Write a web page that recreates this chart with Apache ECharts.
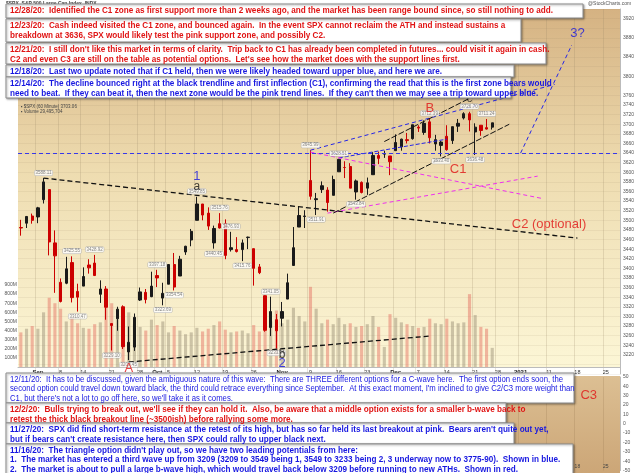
<!DOCTYPE html>
<html><head><meta charset="utf-8">
<script src="https://cdn.jsdelivr.net/npm/echarts@6/dist/echarts.min.js"></script>
<style>html,body{margin:0;padding:0;background:#fff}#c{width:640px;height:473px}</style>
</head><body><div id="c"></div>
<script>
// ---------------- DATA ----------------
const dates = ['2020-08-27','2020-08-28','2020-08-31','2020-09-01','2020-09-02','2020-09-03','2020-09-04','2020-09-08','2020-09-09','2020-09-10','2020-09-11','2020-09-14','2020-09-15','2020-09-16','2020-09-17','2020-09-18','2020-09-21','2020-09-22','2020-09-23','2020-09-24','2020-09-25','2020-09-28','2020-09-29','2020-09-30','2020-10-01','2020-10-02','2020-10-05','2020-10-06','2020-10-07','2020-10-08','2020-10-09','2020-10-12','2020-10-13','2020-10-14','2020-10-15','2020-10-16','2020-10-19','2020-10-20','2020-10-21','2020-10-22','2020-10-23','2020-10-26','2020-10-27','2020-10-28','2020-10-29','2020-10-30','2020-11-02','2020-11-03','2020-11-04','2020-11-05','2020-11-06','2020-11-09','2020-11-10','2020-11-11','2020-11-12','2020-11-13','2020-11-16','2020-11-17','2020-11-18','2020-11-19','2020-11-20','2020-11-23','2020-11-24','2020-11-25','2020-11-27','2020-11-30','2020-12-01','2020-12-02','2020-12-03','2020-12-04','2020-12-07','2020-12-08','2020-12-09','2020-12-10','2020-12-11','2020-12-14','2020-12-15','2020-12-16','2020-12-17','2020-12-18','2020-12-21','2020-12-22','2020-12-23','2020-12-24'];
const futureDates = ['2020-12-28','2020-12-29','2020-12-30','2020-12-31','2021-01-04','2021-01-05','2021-01-06','2021-01-07','2021-01-08','2021-01-11','2021-01-12','2021-01-13','2021-01-14','2021-01-15','2021-01-18','2021-01-19','2021-01-20','2021-01-21','2021-01-22','2021-01-25','2021-01-26','2021-01-27'];
const open  = [3485,3494,3509,3507,3543,3564,3453,3371,3369,3412,3352,3363,3407,3411,3346,3357,3285,3295,3320,3226,3236,3334,3350,3341,3385,3338,3367,3408,3384,3434,3459,3500,3534,3515,3453,3493,3493,3439,3439,3439,3464,3441,3403,3343,3277,3293,3296,3336,3406,3486,3508,3583,3543,3564,3563,3552,3601,3610,3612,3559,3579,3567,3595,3635,3638,3634,3645,3653,3668,3670,3694,3683,3705,3659,3656,3675,3666,3696,3713,3722,3684,3698,3693,3694];
const high  = [3501,3509,3514,3528,3588,3564,3479,3379,3424,3425,3368,3402,3419,3428,3375,3363,3285,3320,3323,3279,3306,3360,3357,3393,3397,3370,3409,3432,3426,3447,3482,3549,3534,3527,3489,3515,3502,3476,3465,3460,3466,3441,3409,3342,3341,3305,3330,3389,3486,3529,3521,3646,3557,3581,3569,3593,3628,3623,3619,3585,3581,3589,3642,3643,3645,3634,3679,3670,3682,3699,3698,3708,3712,3678,3665,3698,3695,3711,3725,3726,3702,3698,3711,3703];
const low   = [3468,3484,3493,3494,3535,3427,3349,3329,3367,3329,3310,3363,3389,3384,3328,3293,3229,3270,3232,3209,3228,3332,3327,3340,3361,3323,3367,3354,3384,3428,3446,3500,3500,3480,3441,3483,3419,3435,3433,3415,3440,3364,3388,3268,3259,3233,3279,3336,3405,3486,3484,3543,3511,3557,3518,3552,3601,3588,3567,3543,3556,3553,3595,3617,3630,3594,3645,3645,3660,3668,3684,3678,3660,3645,3633,3645,3659,3684,3710,3685,3636,3676,3689,3689];
const close = [3484,3508,3500,3526,3580,3455,3426,3331,3399,3339,3340,3383,3401,3385,3357,3319,3281,3315,3237,3246,3298,3351,3335,3363,3380,3348,3408,3361,3419,3446,3477,3534,3511,3488,3483,3484,3427,3443,3435,3453,3465,3400,3391,3271,3310,3270,3310,3370,3443,3510,3509,3550,3545,3572,3537,3585,3627,3610,3567,3582,3558,3578,3635,3629,3638,3622,3662,3669,3666,3699,3692,3702,3672,3668,3663,3647,3695,3702,3722,3709,3694,3687,3690,3703];
const volume = [380,420,450,420,600,760,700, 640,500,540,480, 430,420,470,490,660, 700,520,560,600,470, 440,400,520, 460,500, 380,450,400,360,380, 430,390,420,460,500, 410,380,390,400,370, 460,390,580,500,620, 480,520,650,560,500, 880,640,480,520,470, 540,470,480,440,450, 470,560,440,220, 580, 540,490,470,450, 430,440,530,480,470, 530,500,480,490,800, 570,440,420,210];

const xLabelDates = ['2020-09-01','2020-09-08','2020-09-14','2020-09-21','2020-09-28','2020-10-01','2020-10-05','2020-10-12','2020-10-19','2020-10-26','2020-11-02','2020-11-09','2020-11-16','2020-11-23','2020-12-01','2020-12-07','2020-12-14','2020-12-21','2020-12-28','2021-01-04','2021-01-11','2021-01-18','2021-01-25'];
const xLabelTexts = ['Sep','8','14','21','28','Oct','5','12','19','26','Nov','9','16','23','Dec','7','14','21','28','2021','11','18','25'];

const pivotDates  = ['2020-09-02','2020-09-10','2020-09-11','2020-09-16','2020-09-21','2020-09-24','2020-10-01','2020-10-02','2020-10-06','2020-10-12','2020-10-15','2020-10-16','2020-10-20','2020-10-22','2020-10-29','2020-10-30','2020-11-09','2020-11-10','2020-11-16','2020-11-19','2020-12-09','2020-12-11','2020-12-18','2020-12-21','2020-12-23'];
const pivotPrices = [3588.11,3425.55,3310.47,3428.92,3229.10,3209.45,3397.18,3323.69,3354.54,3549.85,3440.45,3515.76,3476.93,3415.76,3341.05,3233.94,3645.99,3511.91,3628.51,3543.84,3712.39,3633.40,3726.70,3636.48,3711.24];
const pivotSide   = ['top','top','bottom','top','bottom','bottom','top','bottom','bottom','top','bottom','top','top','bottom','top','bottom','top','bottom','top','bottom','top','bottom','top','bottom','top'];

const waveDates  = ['2020-09-24','2020-10-12','2020-10-12','2020-11-02','2020-11-02','2020-12-09','2020-12-18','2020-12-16','2021-01-11','2021-01-18'];
const wavePrices = [3192,3592,3571,3221,3202,3734,3752,3607,3492,3890];
const waveTexts  = ['A','1','a','b','2','B','c','C1','C2 (optional)','3?'];
const lowerWaveDates = ['2021-01-20'];
const lowerWaveValues = [30];
const lowerWaveTexts = ['C3'];

const breakdownLevel = 3640;
const blackTopLine    = [['2020-09-02',3588],['2021-01-18',3463]];
const blackBottomLine = [['2020-09-24',3205],['2020-12-09',3259]];
const blueUpperLine   = [['2020-11-09',3646],['2021-01-12',3783]];
const blueRiseLine    = [['2021-01-04',3640],['2021-01-15',3865]];
const blueMidLine     = [['2020-11-16',3630],['2020-12-14',3669]];
const pinkDownLine    = [['2020-11-09',3642],['2021-01-08',3545]];
const pinkUpLine      = [['2020-11-12',3515],['2021-01-07',3592]];
const channelLowLine  = [['2020-11-13',3515],['2020-12-30',3700]];
const channelHighLine = [['2020-11-27',3664],['2020-12-18',3754]];

const topNotes = [
 ['12/28/20:  Identified the C1 zone as first support more than 2 weeks ago, and the market has been range bound since, so still nothing to add.'],
 ['12/23/20:  Cash indeed visited the C1 zone, and bounced again.  In the event SPX cannot reclaim the ATH and instead sustains a','breakdown at 3636, SPX would likely test the pink support zone, and possibly C2.'],
 ["12/21/20:  I still don't like this market in terms of clarity.  Trip back to C1 has already been completed in futures... could visit it again in cash.","C2 and even C3 are still on the table as potential options.  Let's see how the market does with the support lines first."],
 ['12/18/20:  Last two update noted that if C1 held, then we were likely headed toward upper blue, and here we are.'],
 ['12/14/20:  The decline bounced right at the black trendline and first inflection (C1), confirming the read that this is the first zone bears would',"need to beat.  If they can beat it, then the next zone would be the pink trend lines.  If they can't then we may see a trip toward upper blue."]
];
const bottomNotes = [
 ['12/11/20:  It has to be discussed, given the ambiguous nature of this wave:  There are THREE different options for a C-wave here.  The first option ends soon, the',"second option could travel down toward black, the third could retrace everything since September.  At this exact moment, I'm inclined to give C2/C3 more weight than","C1, but there's not a lot to go off here, so we'll take it as it comes."],
 ["12/2/20:  Bulls trying to break out, we'll see if they can hold it.  Also, be aware that a middle option exists for a smaller b-wave back to",'retest the thick black breakout line (~3500ish) before rallying some more.'],
 ["11/27/20:  SPX did find short-term resistance at the retest of its high, but has so far held its last breakout at pink.  Bears aren't quite out yet,","but if bears can't create resistance here, then SPX could rally to upper black next."],
 ["11/16/20:  The triangle option didn't play out, so we have two leading potentials from here:",'1.  The market has entered a third wave up from 3209 (3209 to 3549 being 1, 3549 to 3233 being 2, 3 underway now to 3775-90).  Shown in blue.','2.  The market is about to pull a large b-wave high, which would travel back below 3209 before running to new ATHs.  Shown in red.']
];

// ---------------- LAYOUT / STYLE ----------------
const RED = '#e01414', BLUE = '#1717e0';
const topBoxes = [
 {x:6,y:4,w:577,h:14,color:RED},
 {x:6,y:19,w:515,h:23,color:RED},
 {x:6,y:43,w:540,h:21,color:RED},
 {x:6,y:65,w:508,h:12,color:BLUE},
 {x:6,y:77,w:505,h:21,color:BLUE}
];
const bottomBoxes = [
 {x:6,y:373,w:568,h:30,color:BLUE,bold:false},
 {x:6,y:403,w:500,h:20,color:RED},
 {x:6,y:423,w:508,h:21,color:BLUE},
 {x:6,y:444,w:567,h:31,color:BLUE}
];
const FONT_FAMILY = '"Liberation Sans", Arial, sans-serif';
const boldFont = 'bold 9.5px ' + FONT_FAMILY;
const normFont = '9.5px ' + FONT_FAMILY;
const mctx = document.createElement('canvas').getContext('2d');
function measure(font, s){ mctx.font = font; return mctx.measureText(s).width; }
const boldScale = 543 / measure(boldFont, topNotes[0][0]);
const normScale = 553 / measure(normFont, bottomNotes[0][0]);

const waveStyle = {
 'A':{color:RED,fontSize:13}, '1':{color:BLUE,fontSize:13}, 'a':{color:'#111',fontSize:12},
 'b':{color:'#111',fontSize:12}, '2':{color:BLUE,fontSize:13}, 'B':{color:RED,fontSize:13},
 'c':{color:'#111',fontSize:11}, 'C1':{color:RED,fontSize:13}, 'C2 (optional)':{color:RED,fontSize:13},
 '3?':{color:BLUE,fontSize:13}, 'C3':{color:RED,fontSize:13}
};

const cats = dates.concat(futureDates);
const labelMap = {}; xLabelDates.forEach((d,i)=>{labelMap[d]=xLabelTexts[i];});
const isLbl = (i,v) => labelMap[v] !== undefined;
const bigLbl = new Set(['Sep','Oct','Nov','Dec','2021']);
const xFmt = v => { const t = labelMap[v]; if (t===undefined) return ''; return bigLbl.has(t) ? '{m|'+t+'}' : t; };

const ohlc = dates.map((d,i)=>[open[i],close[i],low[i],high[i]]);
const volData = volume.map((v,i)=>({value:v, itemStyle:{color: close[i]>=open[i] ? 'rgba(140,128,105,0.42)' : 'rgba(226,104,92,0.45)'}}));

function lineSeries(pts, color, type, width){
  return {type:'line', xAxisIndex:0, yAxisIndex:0, data:pts, symbol:'none', silent:true, z:4,
    lineStyle:{color:color, type:type, width:width}, animation:false};
}

const boxEls = [];
function addBoxes(boxes, notes){
  boxes.forEach((b,i)=>{
    const bold = b.bold !== false;
    boxEls.push({type:'rect', z:100, shape:{x:b.x,y:b.y,width:b.w,height:b.h},
      style:{fill:'#fff', stroke:'#8c8c8c', lineWidth:1, shadowBlur:2, shadowOffsetX:1, shadowOffsetY:1, shadowColor:'rgba(0,0,0,0.35)'}});
    boxEls.push({type:'text', z:101, x:b.x+4, y:b.y+1.5, scaleX: bold ? boldScale : normScale,
      style:{text:notes[i].join('\n'), font: bold ? boldFont : normFont, fill:b.color, lineHeight: notes[i].length>2 ? 9.5 : 10, verticalAlign:'top'}});
  });
}
addBoxes(topBoxes, topNotes);
addBoxes(bottomBoxes, bottomNotes);

const chart = echarts.init(document.getElementById('c'));
chart.setOption({
  animation:false,
  backgroundColor:'#fff',
  textStyle:{fontFamily:FONT_FAMILY},
  grid:[
    {left:18, right:20, top:9, bottom:99},
    {left:18, right:20, top:285, bottom:106},
    {left:18, right:20, top:377, bottom:2}
  ],
  xAxis:[
    {type:'category', gridIndex:0, data:cats, boundaryGap:true, axisLine:{show:false}, axisTick:{show:false}, axisLabel:{show:false},
      splitLine:{show:true, interval:isLbl, lineStyle:{color:'rgba(150,130,100,0.22)', width:1}}},
    {type:'category', gridIndex:1, data:cats, boundaryGap:true, axisLine:{show:true, lineStyle:{color:'#bbb'}}, axisTick:{show:false},
      axisLabel:{show:true, interval:isLbl, formatter:xFmt, fontSize:5.5, color:'#333', margin:2, rich:{m:{fontSize:6, fontWeight:'bold', color:'#222'}}}},
    {type:'category', gridIndex:2, data:cats, boundaryGap:true, axisLine:{show:false}, axisTick:{show:false},
      axisLabel:{show:true, interval:isLbl, formatter:xFmt, fontSize:5, color:'#444', margin:-6, rich:{m:{fontSize:5, fontWeight:'bold'}}},
      splitLine:{show:true, interval:isLbl, lineStyle:{color:'rgba(150,120,80,0.25)'}}}
  ],
  yAxis:[
    {type:'value', gridIndex:0, position:'right', min:3180, max:3940, interval:20, scale:true,
      axisLine:{show:true, lineStyle:{color:'#bbb'}}, axisTick:{show:false},
      axisLabel:{fontSize:5, color:'#555', margin:3, formatter:v => (v>=3220 && v<=3740) || (v>=3760 && (v-3760)%40===0 && v<=3920) ? String(v) : ''},
      splitLine:{show:true, lineStyle:{color:'rgba(150,130,100,0.10)'}}},
    {type:'value', gridIndex:1, position:'left', min:0, max:900, interval:100,
      axisLine:{show:false}, axisTick:{show:false}, splitLine:{show:false},
      axisLabel:{fontSize:5, color:'#555', margin:1, formatter:v => v>0 ? v+'M' : ''}},
    {type:'value', gridIndex:2, position:'right', min:-50, max:50, interval:10,
      axisLine:{show:true, lineStyle:{color:'#bbb'}}, axisTick:{show:false},
      axisLabel:{fontSize:5, color:'#555', margin:3}, splitLine:{show:false}}
  ],
  graphic:[
    {type:'rect', z:-10, silent:true, shape:{x:18,y:9,width:602,height:358},
      style:{fill:new echarts.graphic.LinearGradient(0,0,0,1,[{offset:0,color:'#d5b282'},{offset:0.45,color:'#eedcb0'},{offset:1,color:'#fcf6d6'}])}},
    {type:'rect', z:-10, silent:true, shape:{x:18,y:376,width:602,height:97},
      style:{fill:new echarts.graphic.LinearGradient(0,0,0,1,[{offset:0,color:'#dcbf93'},{offset:1,color:'#cca677'}])}},
    {type:'text', z:50, x:6, y:1, style:{text:'$SPX  S&P 500 Large Cap Index  INDX', font:'bold 5px '+FONT_FAMILY, fill:'#444'}},
    {type:'text', z:50, x:588, y:1, style:{text:'@StockCharts.com', font:'5px '+FONT_FAMILY, fill:'#555'}},
    {type:'text', z:50, x:21, y:104, style:{text:'\u25AA $SPX (60 Minute) 3703.06\n\u25AA Volume 29,495,704', font:'4.5px '+FONT_FAMILY, fill:'#444', lineHeight:5}},
    ...boxEls
  ],
  series:[
    {type:'candlestick', xAxisIndex:0, yAxisIndex:0, data:ohlc, barMaxWidth:3, z:3,
      itemStyle:{color:'#1a1a1a', color0:'#cc0000', borderColor:'#1a1a1a', borderColor0:'#cc0000', borderWidth:1},
      markLine:{silent:true, symbol:'none', label:{show:false}, lineStyle:{color:'#3838e8', type:[4,3], width:1},
        data:[{yAxis:breakdownLevel}]}},
    {type:'bar', xAxisIndex:1, yAxisIndex:1, data:volData, barWidth:'55%', z:1},
    lineSeries(blackTopLine, '#111', [5,3], 1.3),
    lineSeries(blackBottomLine, '#111', [5,3], 1.3),
    lineSeries(blueUpperLine, '#2525e6', [4,3], 1),
    lineSeries(blueRiseLine, '#2525e6', [4,3], 1),
    lineSeries(blueMidLine, '#2525e6', [4,2], 1),
    lineSeries(pinkDownLine, '#ee30ee', [4,3], 1),
    lineSeries(pinkUpLine, '#ee30ee', [4,3], 1),
    lineSeries(channelLowLine, '#111', [6,2], 1),
    lineSeries(channelHighLine, '#111', [6,2], 1),
    {type:'scatter', xAxisIndex:0, yAxisIndex:0, z:5, symbolSize:1, itemStyle:{color:'rgba(0,0,0,0)'},
      data:pivotDates.map((d,i)=>({value:[d,pivotPrices[i]], label:{position:pivotSide[i]}})),
      label:{show:true, distance:2, fontSize:4.5, color:'#666', backgroundColor:'#fff', borderColor:'#aaa', borderWidth:0.5, padding:[0,1], borderRadius:1,
        formatter:p => p.value[1].toFixed(2)}},
    {type:'scatter', xAxisIndex:0, yAxisIndex:0, z:6, symbolSize:1, itemStyle:{color:'rgba(0,0,0,0)'},
      data:waveDates.map((d,i)=>({value:[d,wavePrices[i]], name:waveTexts[i], label:waveStyle[waveTexts[i]]})),
      label:{show:true, position:'inside', formatter:'{b}', fontFamily:FONT_FAMILY}},
    {type:'scatter', xAxisIndex:2, yAxisIndex:2, z:6, symbolSize:1, itemStyle:{color:'rgba(0,0,0,0)'},
      data:lowerWaveDates.map((d,i)=>({value:[d,lowerWaveValues[i]], name:lowerWaveTexts[i], label:waveStyle[lowerWaveTexts[i]]})),
      label:{show:true, position:'inside', formatter:'{b}', fontFamily:FONT_FAMILY}}
  ]
});
</script>
</body></html>
